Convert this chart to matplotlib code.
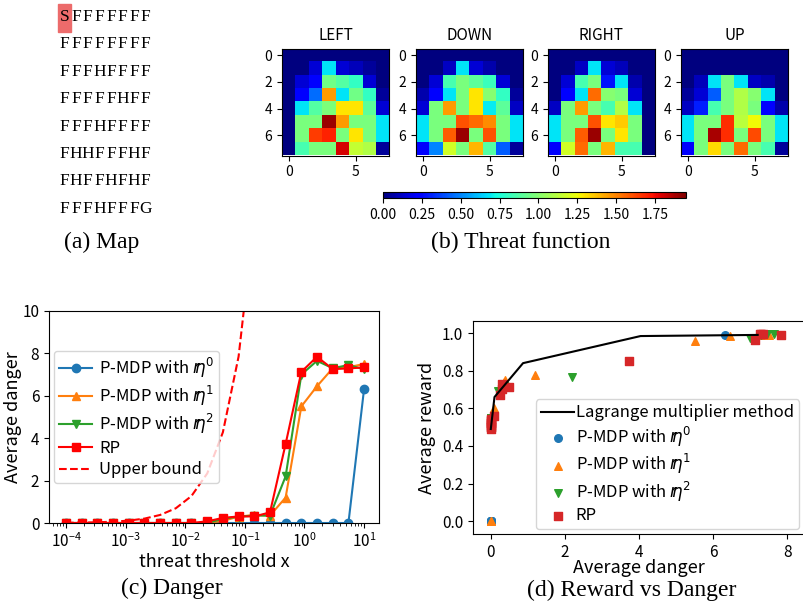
import numpy as np
import matplotlib
matplotlib.use("Agg")
import matplotlib.pyplot as plt
from matplotlib.patches import Rectangle

plt.rcParams['font.family'] = ['Noto Sans CJK KR', 'DejaVu Sans']
plt.rcParams['axes.unicode_minus'] = False

# ---- data ----
lake_map = ["SFFFFFFF", "FFFFFFFF", "FFFHFFFF", "FFFFFHFF",
            "FFFHFFFF", "FHHFFFHF", "FHFFHFHF", "FFFHFFFG"]

actions = ["LEFT", "DOWN", "RIGHT", "UP"]

threat_left = [
    [0, 0, 0, 0, 0, 0, 0, 0],
    [0, 0, 0.15, 0.68, 0.15, 0.1, 0.05, 0],
    [0, 0.15, 0.25, 0.95, 0.88, 0.8, 0.15, 0],
    [0, 0.25, 0.45, 1.45, 0.68, 0.95, 0.8, 0.05],
    [0, 0.68, 0.88, 0.98, 1.3, 1.3, 0.9, 0.15],
    [0, 0.97, 0.97, 1.9, 1.45, 0.97, 0.97, 0.68],
    [0, 0.97, 1.65, 1.7, 0.97, 1.3, 0.97, 0.68],
    [0, 0.85, 0.97, 0.97, 1.8, 1.15, 1.1, 0.05],
]
threat_down = [
    [0, 0, 0, 0, 0, 0, 0, 0],
    [0, 0, 0.12, 0.68, 0.15, 0.08, 0, 0],
    [0, 0.15, 0.85, 0.97, 0.9, 0.82, 0.15, 0],
    [0.08, 0.25, 0.68, 0.97, 1.3, 1.0, 0.8, 0.05],
    [0.15, 0.97, 1.45, 0.97, 1.3, 0.7, 0.9, 0.12],
    [0.68, 0.97, 0.97, 1.6, 1.55, 1.48, 0.97, 0.68],
    [0.68, 0.97, 1.58, 1.9, 0.97, 1.6, 0.97, 0.68],
    [0.22, 0.5, 1.18, 0.97, 1.4, 0.88, 0.42, 0.05],
]
threat_right = [
    [0, 0, 0, 0, 0, 0, 0, 0],
    [0, 0, 0.12, 0.68, 0.15, 0.1, 0, 0],
    [0, 0.15, 0.85, 0.97, 0.28, 0.68, 0.08, 0],
    [0, 0.25, 0.68, 1.55, 1.0, 0.97, 0.15, 0],
    [0.12, 0.97, 1.45, 0.97, 0.85, 1.1, 0.68, 0],
    [0.68, 0.97, 0.97, 1.6, 1.3, 1.35, 0.97, 0],
    [0.68, 0.97, 1.58, 1.9, 0.97, 1.3, 0.97, 0],
    [0.22, 1.18, 1.55, 0.97, 1.4, 0.85, 0.85, 0],
]
threat_up = [
    [0, 0, 0, 0, 0, 0, 0, 0],
    [0, 0, 0, 0, 0, 0, 0, 0],
    [0, 0.1, 0.68, 0.97, 0.68, 0.12, 0.08, 0],
    [0.05, 0.15, 0.42, 0.97, 1.1, 1.0, 0.68, 0],
    [0.12, 0.3, 0.85, 0.97, 1.1, 0.97, 0.25, 0.08],
    [0.68, 0.97, 0.97, 1.68, 1.12, 1.25, 0.97, 0.68],
    [0.68, 0.97, 1.88, 1.68, 0.97, 1.62, 0.97, 0.68],
    [0.22, 0.97, 1.32, 0.97, 1.55, 0.97, 0.85, 0.05],
]
threats = [threat_left, threat_down, threat_right, threat_up]

threshold = [1e-4, 1.83e-4, 3.36e-4, 6.16e-4, 1.13e-3, 2.07e-3, 3.79e-3,
             6.95e-3, 1.27e-2, 2.34e-2, 4.28e-2, 7.85e-2, 0.144, 0.264,
             0.483, 0.886, 1.62, 2.98, 5.46, 10.0]

danger_eta0 = [0] * 19 + [6.33]
danger_eta1 = [0] * 10 + [0.1, 0.3, 0.38, 0.35, 1.2, 5.5, 6.45, 7.3, 7.35, 7.5]
danger_eta2 = [0] * 10 + [0.2, 0.3, 0.35, 0.35, 2.2, 7.0, 7.65, 7.3, 7.45, 7.25]
danger_rp = [0] * 9 + [0.08, 0.24, 0.31, 0.31, 0.5, 3.73, 7.13, 7.84, 7.26, 7.29, 7.34]

upper_x = threshold[:13]
upper_y = [0.01, 0.018, 0.034, 0.062, 0.113, 0.207, 0.379, 0.695, 1.27,
           2.34, 4.28, 7.85, 14.4]

reward_eta0 = [0] * 19 + [0.99]
reward_eta1 = [0, 0, 0.53, 0.54, 0.53, 0.55, 0.54, 0.53, 0.54, 0.55,
               0.6, 0.72, 0.75, 0.74, 0.775, 0.96, 0.985, 0.99, 0.995, 0.99]
reward_eta2 = [0.5, 0.52, 0.53, 0.54, 0.52, 0.55, 0.53, 0.54, 0.52, 0.55,
               0.69, 0.71, 0.72, 0.72, 0.765, 0.975, 0.995, 0.99, 0.995, 0.995]
reward_rp = [0.49, 0.5, 0.52, 0.53, 0.54, 0.5, 0.51, 0.52, 0.545,
             0.56, 0.67, 0.70, 0.73, 0.715, 0.85, 0.965, 0.99, 0.995, 0.995, 0.995]

lagr_danger = [0, 0.1, 0.87, 4.04, 7.2]
lagr_reward = [0.49, 0.66, 0.84, 0.984, 0.99]

labels = [r'P-MDP with $r\!\!\eta^{0}$', r'P-MDP with $r\!\!\eta^{1}$',
          r'P-MDP with $r\!\!\eta^{2}$', 'RP']

W, H = 804, 605
fig = plt.figure(figsize=(W / 100, H / 100), dpi=100)

# ---- (a) map ----
fig.patches.append(Rectangle((58 / W, 1 - 32 / H), 13 / W, 28 / H,
                             transform=fig.transFigure, color='#ec6b6b',
                             zorder=0))
for i, row in enumerate(lake_map):
    for j, ch in enumerate(row):
        fig.text((64.5 + 11.6 * j) / W, 1 - (17 + 27.4 * i) / H, ch,
                 family='Liberation Serif', fontsize=12.5,
                 va='center', ha='center')
fig.text(102 / W, 1 - 242 / H, '(a) Map', family='Liberation Serif',
         fontsize=17, ha='center', va='center')

# ---- (b) threat heatmaps ----
lefts = [282, 416, 548, 681]
for k in range(4):
    ax = fig.add_axes([lefts[k] / W, 1 - 156 / H, 107 / W, 108 / H])
    im = ax.imshow(np.array(threats[k]), cmap='jet', vmin=0, vmax=1.95)
    ax.set_title(actions[k], fontsize=11)
    ax.set_xticks([0, 5])
    ax.set_yticks([0, 2, 4, 6])
    ax.tick_params(labelsize=10)
cax = fig.add_axes([383 / W, 1 - 198 / H, 303 / W, 6 / H])
cb = fig.colorbar(im, cax=cax, orientation='horizontal')
cb.set_ticks([0, 0.25, 0.5, 0.75, 1.0, 1.25, 1.5, 1.75])
cb.ax.tick_params(labelsize=10)
fig.text(521 / W, 1 - 242 / H, '(b) Threat function', family='Liberation Serif',
         fontsize=17, ha='center', va='center')

# ---- (c) danger ----
ax = fig.add_axes([49 / W, 1 - 523 / H, 330 / W, 212 / H])
ax.plot(threshold, danger_eta0, marker='o', color='tab:blue', ms=6, label=labels[0])
ax.plot(threshold, danger_eta1, marker='^', color='tab:orange', ms=6, label=labels[1])
ax.plot(threshold, danger_eta2, marker='v', color='tab:green', ms=6, label=labels[2])
ax.plot(threshold, danger_rp, marker='s', color='red', ms=6, label=labels[3])
ax.plot(upper_x, upper_y, 'r--', label='Upper bound')
ax.set_xscale('log')
ax.set_xlim(10 ** -4.285, 10 ** 1.25)
ax.set_ylim(0, 10)
ax.set_xlabel('threat threshold x', fontsize=13, labelpad=1)
ax.set_ylabel('Average danger', fontsize=13, labelpad=0)
ax.tick_params(labelsize=11)
ax.legend(loc='center left', fontsize=12, handlelength=2, borderpad=0.3,
          labelspacing=0.25, handletextpad=0.4, borderaxespad=0.3)
fig.text(172 / W, 1 - 588 / H, '(c) Danger', family='Liberation Serif',
         fontsize=17, ha='center', va='center')

# ---- (d) reward vs danger ----
ax = fig.add_axes([473 / W, 1 - 534 / H, (W - 473) / W, 213 / H])
ax.plot(lagr_danger, lagr_reward, color='black', label='Lagrange multiplier method')
ax.scatter(danger_eta0, reward_eta0, marker='o', color='tab:blue', s=30, label=labels[0])
ax.scatter(danger_eta1, reward_eta1, marker='^', color='tab:orange', s=30, label=labels[1])
ax.scatter(danger_eta2, reward_eta2, marker='v', color='tab:green', s=30, label=labels[2])
ax.scatter(danger_rp, reward_rp, marker='s', color='tab:red', s=30, label=labels[3])
ax.set_xlim(-0.48, 8.45)
ax.set_ylim(-0.068, 1.064)
ax.set_xticks([0, 2, 4, 6, 8])
ax.set_xlabel('Average danger', fontsize=13, labelpad=-1)
ax.set_ylabel('Average reward', fontsize=13, labelpad=4)
ax.tick_params(labelsize=11)
ax.legend(loc='lower right', fontsize=12, handlelength=2, borderpad=0.3,
          labelspacing=0.2, handletextpad=0.1, borderaxespad=0.3)
fig.text(632 / W, 1 - 590 / H, '(d) Reward vs Danger', family='Liberation Serif',
         fontsize=17, ha='center', va='center')

fig.savefig('out.png', dpi=100)
